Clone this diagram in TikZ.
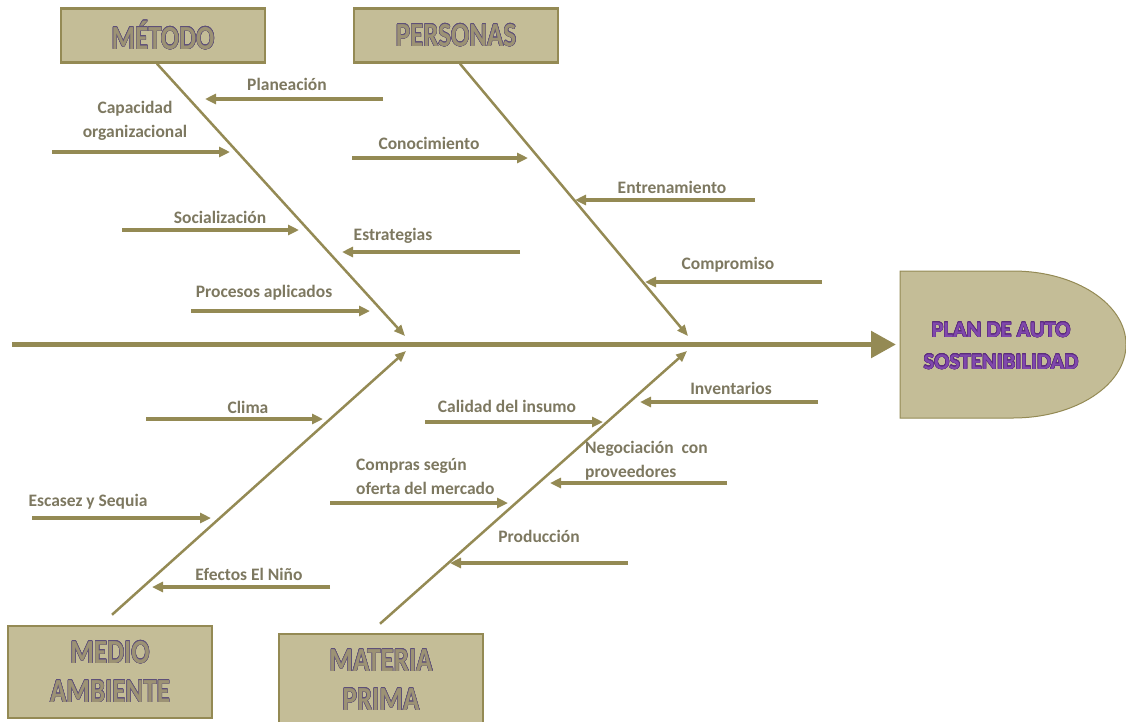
\documentclass[tikz,border=0pt]{standalone}
\usepackage{fontspec}
\setmainfont{Carlito}
\usepackage{graphicx}
\usepackage{contour}
\usetikzlibrary{arrows.meta, calc, positioning}
\definecolor{olive}{HTML}{948A54}
\definecolor{tanfill}{HTML}{C4BD97}
\definecolor{labelgray}{HTML}{7D7860}
\definecolor{titlefill}{HTML}{9C9274}
\definecolor{titleedge}{HTML}{5E5078}
\definecolor{headtext}{HTML}{8048AC}
\definecolor{headedge}{HTML}{5B2B7E}
\contourlength{0.4pt}
\tikzset{
    catBox/.style={rectangle, draw=olive, line width=2.5pt, fill=tanfill, minimum width=204pt, minimum height=54pt, inner sep=0pt, align=center, font=\bfseries\fontsize{27}{39}\selectfont},
    causeLabel/.style={text=labelgray, font=\bfseries\fontsize{17.5}{24}\selectfont, inner sep=0pt, align=center},
    causeArrow/.style={-{Triangle[length=11pt,width=10pt]}, olive, line width=3.5pt},
    bone/.style={-{Triangle[length=11pt,width=9pt]}, olive, line width=2.5pt},
    spine/.style={-{Triangle[length=25pt,width=26pt]}, olive, line width=5.5pt},
    headShape/.style={draw=olive, line width=1pt, fill=tanfill},
    headText/.style={align=center, inner sep=0pt, font=\bfseries\fontsize{22.5}{32}\selectfont},
}
\newcommand{\boxTitle}[1]{\scalebox{1}[1.25]{\contour{titleedge}{\textcolor{titlefill}{#1}}}}
\newcommand{\headTitle}[1]{\contour{headedge}{\textcolor{headtext}{#1}}}
\newcommand{\drawCause}[7][]{
    % flecha horizontal hacia el hueso y su texto
    \coordinate (#2s) at (#3,#5);
    \coordinate (#2e) at (#4,#5);
    \draw[causeArrow] (#2s) -- (#2e);
    \node[causeLabel, #1] (#2l) at (#6) {#7};
}

\begin{document}
\begin{tikzpicture}[x=1pt, y=-1pt]
        \useasboundingbox (0,0) rectangle (1126,721);

        % categorias
        \node[catBox] (metodo) at (163,35.5) {\boxTitle{MÉTODO}};
        \node[catBox] (personas) at (456,35.5) {\boxTitle{PERSONAS}};
        \node[catBox, minimum height=92pt] (medio) at (110,672) {\boxTitle{MEDIO}\\\boxTitle{AMBIENTE}};
        \node[catBox, minimum height=92pt] (materia) at (381,680) {\boxTitle{MATERIA}\\\boxTitle{PRIMA}};

        % cabeza
        \draw[headShape] (900,271) -- (1013,271) arc[start angle=90, end angle=-90, x radius=113pt, y radius=73.5pt] -- (900,418) -- cycle;
        \node[headText] (head) at (1001,346) {\headTitle{PLAN DE AUTO}\\\headTitle{SOSTENIBILIDAD}};
        \coordinate (headW) at (900,344.5);

        % espina
        \coordinate (spineStart) at (12,344.5);
        \draw[spine, shorten >=4pt] (spineStart) -- (headW);

        % huesos
        \coordinate (metTip) at (405,336);
        \coordinate (perTip) at (688,336);
        \coordinate (medTip) at (406,351);
        \coordinate (matTip) at (687,351);
        \draw[bone] ([xshift=-6pt]metodo.south) -- (metTip);
        \draw[bone] ([xshift=4pt]personas.south) -- (perTip);
        \draw[bone] ([xshift=2pt, yshift=10pt]medio.north) -- (medTip);
        \draw[bone] ([xshift=-1pt, yshift=9pt]materia.north) -- (matTip);

        % causas arriba
        \drawCause{plan}{383}{205}{99}{287,84}{Planeación}
        \drawCause{capa}{52}{230}{152}{135,121}{Capacidad\\organizacional}
        \drawCause{cono}{352}{528}{158}{429,143}{Conocimiento}
        \drawCause{entr}{755}{575}{200}{672,187}{Entrenamiento}
        \drawCause{soci}{122}{299}{230}{220,217}{Socialización}
        \drawCause{estr}{520}{342}{252}{393,236}{Estrategias}
        \drawCause{comp}{822}{645}{282}{728,265}{Compromiso}
        \drawCause{proc}{191}{370}{311}{264,293}{Procesos aplicados}

        % causas abajo
        \drawCause{clim}{146}{323}{419}{248,407}{Clima}
        \drawCause{cali}{425}{603}{422}{507,406}{Calidad del insumo}
        \drawCause{inve}{818}{640}{402}{731,388}{Inventarios}
        \drawCause[anchor=west, align=left]{nego}{727}{550}{483}{585,461}{Negociación~ con\\proveedores}
        \drawCause[anchor=west, align=left]{cmpr}{330}{508}{503}{356,477}{Compras según\\oferta del mercado}
        \drawCause{esca}{32}{211}{518}{88,502}{Escasez y Sequia}
        \drawCause{prod}{628}{450}{563}{539,536}{Producción}
        \drawCause{efec}{330}{152}{587}{249,574}{Efectos El Niño}

    \end{tikzpicture}
\end{document}
